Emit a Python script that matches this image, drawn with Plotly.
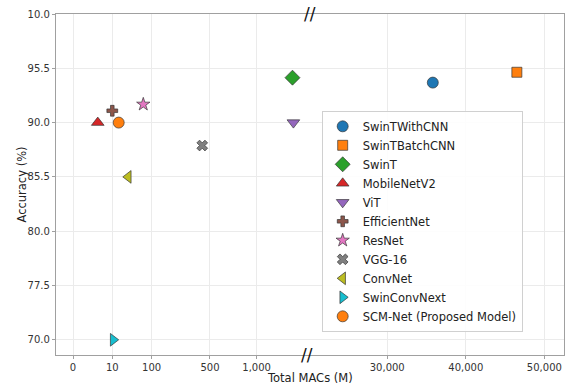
import numpy as np
import plotly.graph_objects as go

# ---- data ----
models = ["SwinTWithCNN", "SwinTBatchCNN", "SwinT", "MobileNetV2", "ViT",
          "EfficientNet", "ResNet", "VGG-16", "ConvNet", "SwinConvNext",
          "SCM-Net (Proposed Model)"]
macs = [35800, 46500, 1385, 6.3, 1395, 10, 81, 447, 46.7, 12, 24.7]
accuracy = [94.05, 95.1, 94.55, 90.0, 90.0, 91.2, 91.85, 88.1, 85.5, 70.0, 90.0]

x_tick_values = [0, 10, 100, 500, 1000, 30000, 40000, 50000]
x_tick_labels = ["0", "10", "100", "500", "1,000", "30,000", "40,000", "50,000"]
y_tick_values = [70.0, 77.5, 80.0, 85.5, 90.0, 95.5, 100.0]
y_tick_labels = ["70.0", "77.5", "80.0", "85.5", "90.0", "95.5", "10.0"]

# ---- styles ----
colors = ["#1f77b4", "#ff7f0e", "#2ca02c", "#d62728", "#9467bd", "#8c564b",
          "#e377c2", "#7f7f7f", "#bcbd22", "#17becf", "#ff7f0e"]
symbols = ["circle", "square", "diamond", "triangle-up", "triangle-down",
           "cross", "star", "x", "triangle-left", "triangle-right", "circle"]
sizes = [11, 10, 11.5, 11, 11, 9, 10, 9.5, 11, 11, 11]

# piecewise (broken) axis scales
X_KNOTS = [0, 10, 100, 500, 1000, 1500, 30000, 50000]
X_POS = [0, 1, 2, 3.487, 4.675, 5.86, 8, 12]
Y_POS = [0, 1, 2, 3, 4, 5, 6]


def xs(v):
    return np.interp(v, X_KNOTS, X_POS)


def ys(v):
    return np.interp(v, y_tick_values, Y_POS)


fig = go.Figure()
for m, x, y, c, s, sz in zip(models, macs, accuracy, colors, symbols, sizes):
    fig.add_trace(go.Scatter(
        x=[xs(x)], y=[ys(y)], mode="markers", name=m,
        marker=dict(color=c, symbol=s, size=sz,
                    line=dict(color="rgba(50,50,50,0.85)", width=0.8)),
    ))

FONT = "DejaVu Sans"
axis_common = dict(
    showgrid=True, gridcolor="#ebebeb", gridwidth=1,
    showline=True, linecolor="#a0a0a0", linewidth=1.3, mirror=True,
    ticks="outside", ticklen=3, tickcolor="#a0a0a0", tickwidth=1,
    zeroline=False, tickfont=dict(family=FONT, size=10, color="#333"),
)

fig.update_layout(
    width=566, height=386,
    margin=dict(l=56, r=2, t=14, b=31, autoexpand=False),
    plot_bgcolor="white", paper_bgcolor="white",
    font=dict(family=FONT, color="#222"),
    xaxis=dict(range=[-0.433, 12.5], tickmode="array",
               tickvals=[float(xs(v)) for v in x_tick_values],
               ticktext=x_tick_labels,
               automargin=False, **axis_common),
    yaxis=dict(range=[-0.28, 6.0], tickmode="array",
               tickvals=[float(ys(v)) for v in y_tick_values],
               ticktext=y_tick_labels,
               automargin=False, **axis_common),
    legend=dict(x=0.523, y=0.068, xanchor="left", yanchor="bottom",
                bgcolor="rgba(255,255,255,0.9)", bordercolor="#d0d0d0",
                borderwidth=1, font=dict(family=FONT, size=11.5, color="#222"),
                itemsizing="trace"),
    showlegend=True,
)

# axis titles
fig.add_annotation(x=0.5, y=-(378 - 355) / 341, xref="paper", yref="paper",
                   text="Total MACs (M)", showarrow=False,
                   font=dict(family=FONT, size=11.5, color="#222"),
                   xanchor="center", yanchor="middle")
fig.add_annotation(x=(21 - 56) / 508, y=0.5, xref="paper", yref="paper",
                   text="Accuracy (%)", textangle=-90, showarrow=False,
                   font=dict(family=FONT, size=11.5, color="#222"),
                   xanchor="center", yanchor="middle")

# axis break marks
for xp, yp in [((310 - 56) / 508, 1.0), ((306.5 - 56) / 508, 0.0)]:
    fig.add_annotation(x=xp, y=yp, xref="paper", yref="paper", text="//",
                       showarrow=False, font=dict(family=FONT, size=17, color="#111"),
                       xanchor="center", yanchor="middle")

fig.write_html("out.html")
